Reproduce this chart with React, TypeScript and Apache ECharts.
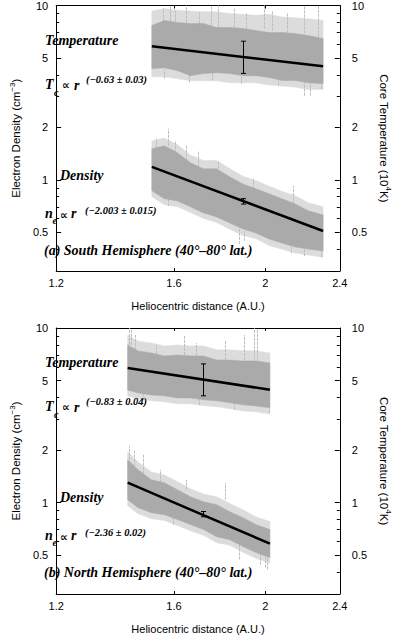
import React, { useEffect, useRef } from "react";
import * as echarts from "echarts";

// ---------- axes ----------
const X_LABELS = [1.2, 1.6, 2, 2.4];
const X_TICKS = [1.6, 2];
const Y_MAJOR = [0.5, 1, 2, 5, 10];
const Y_MINOR = [0.4, 0.6, 0.7, 0.8, 0.9, 3, 4, 6, 7, 8, 9];

// ---------- (a) South hemisphere ----------
const S_X = [1.516, 1.563, 1.614, 1.666, 1.72, 1.776, 1.834, 1.894, 1.955, 2.019, 2.084, 2.152, 2.222, 2.304];
// dense core of the temperature / density clouds
const S_T_HI = [7.68, 8.2, 7.99, 7.88, 7.88, 7.47, 7.47, 7.38, 7.18, 7.0, 7.0, 6.91, 6.72, 6.46];
const S_T_LO = [4.34, 4.4, 4.23, 3.96, 4.07, 4.12, 4.07, 3.96, 3.96, 3.86, 3.71, 3.71, 3.61, 3.56];
const S_N_HI = [1.507, 1.568, 1.429, 1.252, 1.157, 1.157, 1.04, 0.948, 0.888, 0.831, 0.778, 0.728, 0.664, 0.629];
const S_N_LO = [0.865, 0.778, 0.757, 0.7, 0.646, 0.613, 0.566, 0.523, 0.496, 0.458, 0.434, 0.412, 0.401, 0.391];
// sparse outer scatter
const S_T_OUT_HI = [9.3, 9.6, 9.4, 9.3, 9.2, 9.2, 9.0, 8.9, 8.8, 8.9, 8.6, 8.5, 8.4, 8.2];
const S_T_OUT_LO = [3.9, 3.9, 3.8, 3.7, 3.7, 3.7, 3.6, 3.6, 3.6, 3.5, 3.45, 3.4, 3.3, 3.3];
const S_N_OUT_HI = [1.67, 1.74, 1.59, 1.39, 1.29, 1.29, 1.16, 1.05, 0.99, 0.92, 0.86, 0.81, 0.74, 0.7];
const S_N_OUT_LO = [0.8, 0.72, 0.7, 0.65, 0.6, 0.57, 0.52, 0.48, 0.46, 0.42, 0.4, 0.38, 0.37, 0.36];
// spikes [x, low, high]
const S_T_SPIKES = [
  [1.557, 7.68, 9.61], [1.583, 7.68, 10], [1.604, 7.68, 9.36], [1.648, 7.99, 10], [1.702, 7.88, 9.11],
  [1.75, 7.68, 10], [1.784, 7.47, 10], [1.854, 7.47, 9.61], [1.906, 7.38, 9.11], [1.993, 7.38, 10],
  [2.032, 7.18, 9.36], [2.107, 7.0, 9.11], [2.199, 6.91, 10], [2.275, 6.6, 10],
  [1.563, 3.81, 4.34], [1.659, 3.61, 3.96], [1.757, 3.71, 4.12], [1.886, 3.56, 3.96], [2.062, 3.47, 3.71],
  [2.199, 3.04, 3.71], [2.232, 3.04, 3.61], [2.294, 3.33, 3.56],
];
const S_N_SPIKES = [
  [1.53, 1.507, 1.72], [1.576, 1.568, 1.964], [1.604, 1.429, 1.68], [1.648, 1.286, 1.568], [1.695, 1.188, 1.47],
  [1.784, 1.157, 1.286], [1.943, 0.888, 1.013], [2.139, 0.728, 0.924],
  [1.579, 0.709, 0.778], [1.874, 0.429, 0.523], [1.901, 0.446, 0.509], [2.129, 0.381, 0.412],
  [2.199, 0.366, 0.401], [2.294, 0.361, 0.391],
];
const S_T_FIT = [[1.516, 5.84], [2.304, 4.48]];
const S_N_FIT = [[1.516, 1.188], [2.304, 0.509]];
const S_T_ERR = [[1.894, 4.08, 6.24]];
const S_N_ERR = [[1.894, 0.726, 0.78]];

// ---------- (b) North hemisphere ----------
const N_X = [1.429, 1.466, 1.514, 1.563, 1.614, 1.666, 1.72, 1.776, 1.834, 1.894, 1.955, 2.023];
const N_T_HI = [8.0, 7.39, 7.2, 6.92, 7.01, 6.92, 6.92, 6.56, 6.56, 6.48, 6.48, 6.31];
const N_T_LO = [4.42, 4.25, 4.14, 4.09, 3.98, 3.98, 3.88, 3.83, 3.73, 3.63, 3.58, 3.49];
const N_N_HI = [1.761, 1.544, 1.353, 1.301, 1.186, 1.082, 1.013, 0.974, 0.888, 0.821, 0.749, 0.701];
const N_N_LO = [1.04, 0.936, 0.877, 0.854, 0.8, 0.749, 0.701, 0.639, 0.614, 0.561, 0.518, 0.485];
const N_T_OUT_HI = [9.1, 8.4, 8.2, 7.9, 8.0, 7.9, 7.9, 7.5, 7.5, 7.4, 7.4, 7.2];
const N_T_OUT_LO = [4.08, 3.93, 3.83, 3.78, 3.68, 3.68, 3.59, 3.54, 3.45, 3.35, 3.31, 3.22];
const N_N_OUT_HI = [1.95, 1.71, 1.5, 1.44, 1.32, 1.2, 1.12, 1.08, 0.99, 0.91, 0.83, 0.78];
const N_N_OUT_LO = [0.96, 0.865, 0.81, 0.79, 0.74, 0.69, 0.65, 0.59, 0.57, 0.52, 0.48, 0.45];
const N_T_SPIKES = [
  [1.432, 8.0, 10], [1.441, 8.0, 9.74], [1.454, 7.49, 9.12], [1.53, 7.1, 8.0], [1.641, 7.01, 9.12],
  [1.688, 6.92, 8.21], [1.815, 6.56, 8.54], [1.901, 6.56, 9.12], [1.947, 6.48, 10], [1.959, 6.48, 9.74],
  [1.482, 3.88, 4.25], [1.702, 3.63, 3.98], [1.854, 3.4, 3.73], [2.019, 3.27, 3.49],
];
const N_N_SPIKES = [
  [1.432, 1.761, 2.117], [1.451, 1.544, 2.008], [1.482, 1.389, 1.881], [1.546, 1.301, 1.544],
  [1.648, 1.186, 1.353], [1.815, 1.04, 1.301],
  [1.596, 0.749, 0.832], [1.874, 0.472, 0.614], [1.976, 0.442, 0.518], [1.997, 0.425, 0.504], [2.01, 0.414, 0.498],
];
const N_T_FIT = [[1.429, 5.91], [2.023, 4.43]];
const N_N_FIT = [[1.429, 1.301], [2.023, 0.583]];
const N_T_ERR = [[1.72, 4.09, 6.23]];
const N_N_ERR = [[1.72, 0.83, 0.89]];

const GRAY = "#aaaaaa";
const HALO = "#dcdcdc";
const SPIKE_GRAY = "#bdbdbd";
const SANS = "Liberation Sans";
const SERIF = "Liberation Serif";

function band(xs: number[], lo: number[], hi: number[], xi: number, yi: number, color: string) {
  return {
    type: "custom",
    xAxisIndex: xi,
    yAxisIndex: yi,
    silent: true,
    z: 1,
    data: xs.map((x, i) => [x, lo[i], hi[i]]),
    encode: { x: 0, y: [1, 2] },
    renderItem: (params: any, api: any) => {
      if (params.dataIndex !== 0) return null;
      const pts: number[][] = [];
      xs.forEach((x, i) => pts.push(api.coord([x, hi[i]])));
      for (let i = xs.length - 1; i >= 0; i--) pts.push(api.coord([xs[i], lo[i]]));
      return { type: "polygon", shape: { points: pts }, style: { fill: color, stroke: color, lineWidth: 0.5 } };
    },
  };
}

function spikes(data: number[][], xi: number, yi: number) {
  return {
    type: "custom",
    xAxisIndex: xi,
    yAxisIndex: yi,
    silent: true,
    z: 1,
    data,
    encode: { x: 0, y: [1, 2] },
    renderItem: (params: any, api: any) => {
      const a = api.coord([api.value(0), api.value(1)]);
      const b = api.coord([api.value(0), api.value(2)]);
      const x = Math.round(a[0]) + 0.5;
      return {
        type: "line",
        shape: { x1: x, y1: a[1], x2: x, y2: b[1] },
        style: { stroke: SPIKE_GRAY, lineWidth: 1, lineDash: [3, 1] },
      };
    },
  };
}

function errbar(data: number[][], xi: number, yi: number) {
  return {
    type: "custom",
    xAxisIndex: xi,
    yAxisIndex: yi,
    silent: true,
    z: 5,
    data,
    encode: { x: 0, y: [1, 2] },
    renderItem: (params: any, api: any) => {
      const a = api.coord([api.value(0), api.value(1)]);
      const b = api.coord([api.value(0), api.value(2)]);
      const x = Math.round(a[0]) + 0.5;
      const st = { stroke: "#000", lineWidth: 1 };
      return {
        type: "group",
        children: [
          { type: "line", shape: { x1: x, y1: a[1], x2: x, y2: b[1] }, style: st },
          { type: "line", shape: { x1: x - 2.5, y1: a[1], x2: x + 2.5, y2: a[1] }, style: st },
          { type: "line", shape: { x1: x - 2.5, y1: b[1], x2: x + 2.5, y2: b[1] }, style: st },
        ],
      };
    },
  };
}

function fit(data: number[][], xi: number, yi: number) {
  return {
    type: "line",
    xAxisIndex: xi,
    yAxisIndex: yi,
    data,
    showSymbol: false,
    silent: true,
    z: 4,
    lineStyle: { color: "#000", width: 2.5 },
  };
}

const axisLine = { show: true, lineStyle: { color: "#000", width: 1 } };
const tickLabel = { fontFamily: SANS, fontSize: 11, color: "#000" };

function xAxes(g: number) {
  return [
    {
      type: "log",
      logBase: 10,
      gridIndex: g,
      min: 1.2,
      max: 2.4,
      position: "bottom",
      axisLine,
      axisTick: { show: true, inside: true, length: 3, customValues: X_TICKS, lineStyle: { color: "#000" } },
      axisLabel: { ...tickLabel, margin: 6, customValues: X_LABELS, formatter: (v: number) => String(v) },
      splitLine: { show: false },
      minorTick: { show: false },
      name: "Heliocentric distance (A.U.)",
      nameLocation: "middle",
      nameGap: 29,
      nameTextStyle: { fontFamily: SANS, fontSize: 11, color: "#000" },
    },
    {
      type: "log",
      logBase: 10,
      gridIndex: g,
      min: 1.2,
      max: 2.4,
      position: "top",
      axisLine,
      axisTick: { show: true, inside: true, length: 3, customValues: X_TICKS, lineStyle: { color: "#000" } },
      axisLabel: { show: false },
      splitLine: { show: false },
    },
  ];
}

function yAxes(g: number) {
  const base = { type: "log", logBase: 10, gridIndex: g, min: 0.3, max: 10, splitLine: { show: false } };
  return [
    {
      ...base,
      position: "left",
      axisLine,
      axisTick: { show: true, inside: true, length: 5, customValues: Y_MAJOR, lineStyle: { color: "#000" } },
      axisLabel: { ...tickLabel, margin: 8, customValues: Y_MAJOR, formatter: (v: number) => String(v) },
      name: "{a|Electron Density (cm}{s|−3}{a|)}",
      nameLocation: "middle",
      nameRotate: 90,
      nameGap: 20,
      nameTextStyle: {
        color: "#000",
        rich: {
          a: { fontFamily: SANS, fontSize: 11.5, color: "#000" },
          s: { fontFamily: SANS, fontSize: 8, color: "#000", padding: [0, 0, 8, 0] },
        },
      },
    },
    {
      ...base,
      position: "right",
      axisLine,
      axisTick: { show: true, inside: true, length: 5, customValues: Y_MAJOR, lineStyle: { color: "#000" } },
      axisLabel: { ...tickLabel, margin: 12, customValues: Y_MAJOR, formatter: (v: number) => String(v) },
      name: "{a|Core Temperature (10}{s|4}{a|K)}",
      nameLocation: "middle",
      nameRotate: -90,
      nameGap: 26,
      nameTextStyle: {
        color: "#000",
        rich: {
          a: { fontFamily: SANS, fontSize: 11.5, color: "#000" },
          s: { fontFamily: SANS, fontSize: 8, color: "#000", padding: [0, 0, 8, 0] },
        },
      },
    },
    {
      ...base,
      position: "left",
      axisLine: { show: false },
      axisTick: { show: true, inside: true, length: 3, customValues: Y_MINOR, lineStyle: { color: "#000" } },
      axisLabel: { show: false },
    },
    {
      ...base,
      position: "right",
      axisLine: { show: false },
      axisTick: { show: true, inside: true, length: 3, customValues: Y_MINOR, lineStyle: { color: "#000" } },
      axisLabel: { show: false },
    },
  ];
}

function txt(text: string, x: number, y: number, size: number, family = SERIF) {
  return {
    type: "text",
    x,
    y,
    silent: true,
    z: 10,
    style: {
      text,
      fontFamily: family,
      fontSize: size,
      fontStyle: "italic",
      fontWeight: "bold",
      fill: "#000",
      verticalAlign: "middle",
      align: "left",
    },
  };
}

function annotations(dy: number, tExp: string, nExp: string, label: string) {
  return [
    txt("Temperature", 45, 40 + dy, 14),
    txt("T", 45, 84.5 + dy, 14),
    txt("c", 54, 92 + dy, 10),
    txt("∝", 62, 85.5 + dy, 11, "DejaVu Sans"),
    txt("r", 74, 85 + dy, 14),
    txt(tExp, 86, 79 + dy, 10.5),
    txt("Density", 60, 175.5 + dy, 14),
    txt("n", 45, 213.5 + dy, 14),
    txt("e", 52.5, 220 + dy, 10),
    txt("∝", 60, 215 + dy, 11, "DejaVu Sans"),
    txt("r", 71, 213.5 + dy, 14),
    txt(nExp, 85, 210 + dy, 10.5),
    txt(label, 44, 250.5 + dy, 14),
  ];
}

export default function App() {
  const ref = useRef<HTMLDivElement>(null);
  useEffect(() => {
    if (!ref.current) return;
    const chart = echarts.init(ref.current, null, { renderer: "svg" });
    const option: any = {
      animation: false,
      backgroundColor: "#fff",
      grid: [
        { left: 36, top: 5, width: 325, height: 266 },
        { left: 36, top: 328, width: 325, height: 266 },
      ],
      xAxis: [...xAxes(0), ...xAxes(1)],
      yAxis: [...yAxes(0), ...yAxes(1)],
      series: [
        band(S_X, S_T_OUT_LO, S_T_OUT_HI, 0, 1, HALO),
        band(S_X, S_N_OUT_LO, S_N_OUT_HI, 0, 0, HALO),
        spikes(S_T_SPIKES, 0, 1),
        spikes(S_N_SPIKES, 0, 0),
        band(S_X, S_T_LO, S_T_HI, 0, 1, GRAY),
        band(S_X, S_N_LO, S_N_HI, 0, 0, GRAY),
        fit(S_T_FIT, 0, 1),
        fit(S_N_FIT, 0, 0),
        errbar(S_T_ERR, 0, 1),
        errbar(S_N_ERR, 0, 0),
        band(N_X, N_T_OUT_LO, N_T_OUT_HI, 2, 5, HALO),
        band(N_X, N_N_OUT_LO, N_N_OUT_HI, 2, 4, HALO),
        spikes(N_T_SPIKES, 2, 5),
        spikes(N_N_SPIKES, 2, 4),
        band(N_X, N_T_LO, N_T_HI, 2, 5, GRAY),
        band(N_X, N_N_LO, N_N_HI, 2, 4, GRAY),
        fit(N_T_FIT, 2, 5),
        fit(N_N_FIT, 2, 4),
        errbar(N_T_ERR, 2, 5),
        errbar(N_N_ERR, 2, 4),
      ],
      graphic: [
        ...annotations(0, "(−0.63 ± 0.03)", "(−2.003 ± 0.015)", "(a) South Hemisphere (40°–80° lat.)"),
        ...annotations(322, "(−0.83 ± 0.04)", "(−2.36 ± 0.02)", "(b) North Hemisphere (40°–80° lat.)"),
      ],
    };
    chart.setOption(option);
    return () => chart.dispose();
  }, []);
  return (
    <div
      ref={ref}
      style={{ position: "fixed", left: 0, top: 0, width: 400, height: 635, background: "#fff" }}
    />
  );
}
